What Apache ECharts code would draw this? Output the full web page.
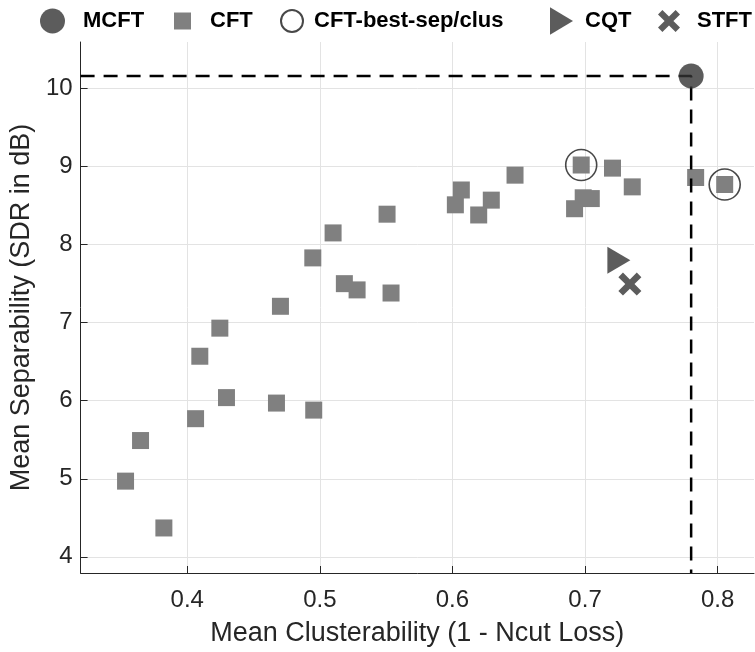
<!DOCTYPE html>
<html><head><meta charset="utf-8">
<script src="https://cdn.jsdelivr.net/npm/echarts@6/dist/echarts.min.js"></script>
<style>html,body{margin:0;padding:0;background:#fff}#c{width:755px;height:652px}</style>
</head><body><div id="c"></div>
<script>
// ---- data ----
const xTicks = [0.4, 0.5, 0.6, 0.7, 0.8];
const yTicks = [4, 5, 6, 7, 8, 9, 10];
const xRange = [0.3196, 0.8274];
const yRange = [3.793, 10.596];

const cftX = [0.3535, 0.3648, 0.3824, 0.4063, 0.4095, 0.4246, 0.4296, 0.4673, 0.4703, 0.4954,
              0.4947, 0.5100, 0.5185, 0.5281, 0.5507, 0.5537, 0.6022, 0.6067, 0.6198, 0.6293,
              0.6472, 0.6921, 0.6971, 0.6986, 0.7047, 0.7207, 0.7356, 0.7834, 0.8053];
const cftY = [4.97, 5.49, 4.37, 5.77, 6.57, 6.93, 6.04, 5.97, 7.21, 5.88,
              7.83, 8.15, 7.50, 7.42, 8.39, 7.38, 8.51, 8.70, 8.38, 8.57,
              8.89, 8.46, 9.02, 8.60, 8.59, 8.98, 8.74, 8.86, 8.77];
const bestX = [0.6971, 0.8053];
const bestY = [9.02, 8.77];
const mcftX = [0.780];
const mcftY = [10.16];
const cqtX = [0.7255];
const cqtY = [7.80];
const stftX = [0.7338];
const stftY = [7.495];

const names = ['MCFT', 'CFT', 'CFT-best-sep/clus', 'CQT', 'STFT'];

const zip = (a, b) => a.map((v, i) => [v, b[i]]);

const TRI = 'path://M0,0L10,6L0,12Z';
const XMK = 'path://M0,2L2,0L5,3L8,0L10,2L7,5L10,8L8,10L5,7L2,10L0,8L3,5Z';
const SQR = 'path://M0,0L10,0L10,10L0,10Z';
const FONT = "'Liberation Sans', Arial, Helvetica, sans-serif";
const TXT = '#262626';
const DARK = '#333333';
const LH = 28;   // common legend item height
const TLH = 30;  // legend text line height (taller than every icon)

const legendText = (pad) => ({
  fontFamily: FONT, fontWeight: 'bold', fontSize: 22, color: '#000',
  lineHeight: TLH, padding: [0, 0, 0, pad]
});
const mkLegend = (name, icon, left, w, pad) => ({
  data: [{ name: name, icon: icon }], left: left, top: 21 - TLH / 2,
  itemWidth: w, itemHeight: LH, symbolKeepAspect: true, padding: 0, selectedMode: false,
  textStyle: legendText(pad)
});

const chart = echarts.init(document.getElementById('c'), null, { renderer: 'canvas' });
chart.setOption({
  animation: false,
  backgroundColor: '#fff',
  grid: { left: 80, top: 42, right: 1, bottom: 75, containLabel: false },
  legend: [
    mkLegend(names[0], 'circle', 40, 25, 13),
    mkLegend(names[1], SQR, 174, 17, 14),
    mkLegend(names[2], 'circle', 280, 22, 6),
    mkLegend(names[3], TRI, 550, 23, 7),
    mkLegend(names[4], XMK, 658, 22, 12)
  ],
  xAxis: {
    type: 'value', min: xRange[0], max: xRange[1],
    name: 'Mean Clusterability (1 - Ncut Loss)', nameLocation: 'middle', nameGap: 47,
    nameTextStyle: { fontFamily: FONT, fontSize: 27, color: TXT },
    axisLine: { show: true, lineStyle: { color: TXT, width: 1 } },
    axisTick: { show: true, inside: true, length: 7, customValues: xTicks, lineStyle: { color: TXT } },
    axisLabel: { customValues: xTicks, margin: 15, fontFamily: FONT, fontSize: 24, color: TXT,
                 formatter: v => String(+v.toFixed(1)) },
    splitLine: { show: true, lineStyle: { color: '#e3e3e3', width: 1 } }
  },
  yAxis: {
    type: 'value', min: yRange[0], max: yRange[1],
    name: 'Mean Separability (SDR in dB)', nameLocation: 'middle', nameGap: 42,
    nameTextStyle: { fontFamily: FONT, fontSize: 27, color: TXT },
    axisLine: { show: true, lineStyle: { color: TXT, width: 1 } },
    axisTick: { show: true, inside: true, length: 7, customValues: yTicks, lineStyle: { color: TXT } },
    axisLabel: { customValues: yTicks, margin: 8, fontFamily: FONT, fontSize: 24, color: TXT,
                 formatter: v => String(Math.round(v)) },
    splitLine: { show: true, lineStyle: { color: '#e3e3e3', width: 1 } }
  },
  series: [
    { name: names[1], type: 'scatter', symbol: 'rect', symbolSize: 17,
      itemStyle: { color: '#808080', opacity: 1 }, data: zip(cftX, cftY), z: 2 },
    { name: names[2], type: 'scatter', symbol: 'circle', symbolSize: 31,
      itemStyle: { color: 'rgba(0,0,0,0)', borderColor: '#1a1a1a', borderWidth: 1.6 },
      data: zip(bestX, bestY), z: 3 },
    { name: names[3], type: 'scatter', symbol: TRI, symbolSize: [23, 27], symbolKeepAspect: false,
      itemStyle: { color: DARK }, data: zip(cqtX, cqtY), z: 3 },
    { name: names[4], type: 'scatter', symbol: XMK, symbolSize: 23,
      itemStyle: { color: DARK }, data: zip(stftX, stftY), z: 3 },
    { name: 'guide', type: 'line', symbol: 'none', silent: true, z: 4,
      lineStyle: { color: '#000', width: 2.5, type: [14, 9] },
      data: [[xRange[0], mcftY[0]], [mcftX[0], mcftY[0]], [mcftX[0], yRange[0]]] },
    { name: names[0], type: 'scatter', symbol: 'circle', symbolSize: 25,
      itemStyle: { color: DARK }, data: zip(mcftX, mcftY), z: 5 }
  ]
});
</script>
</body></html>
